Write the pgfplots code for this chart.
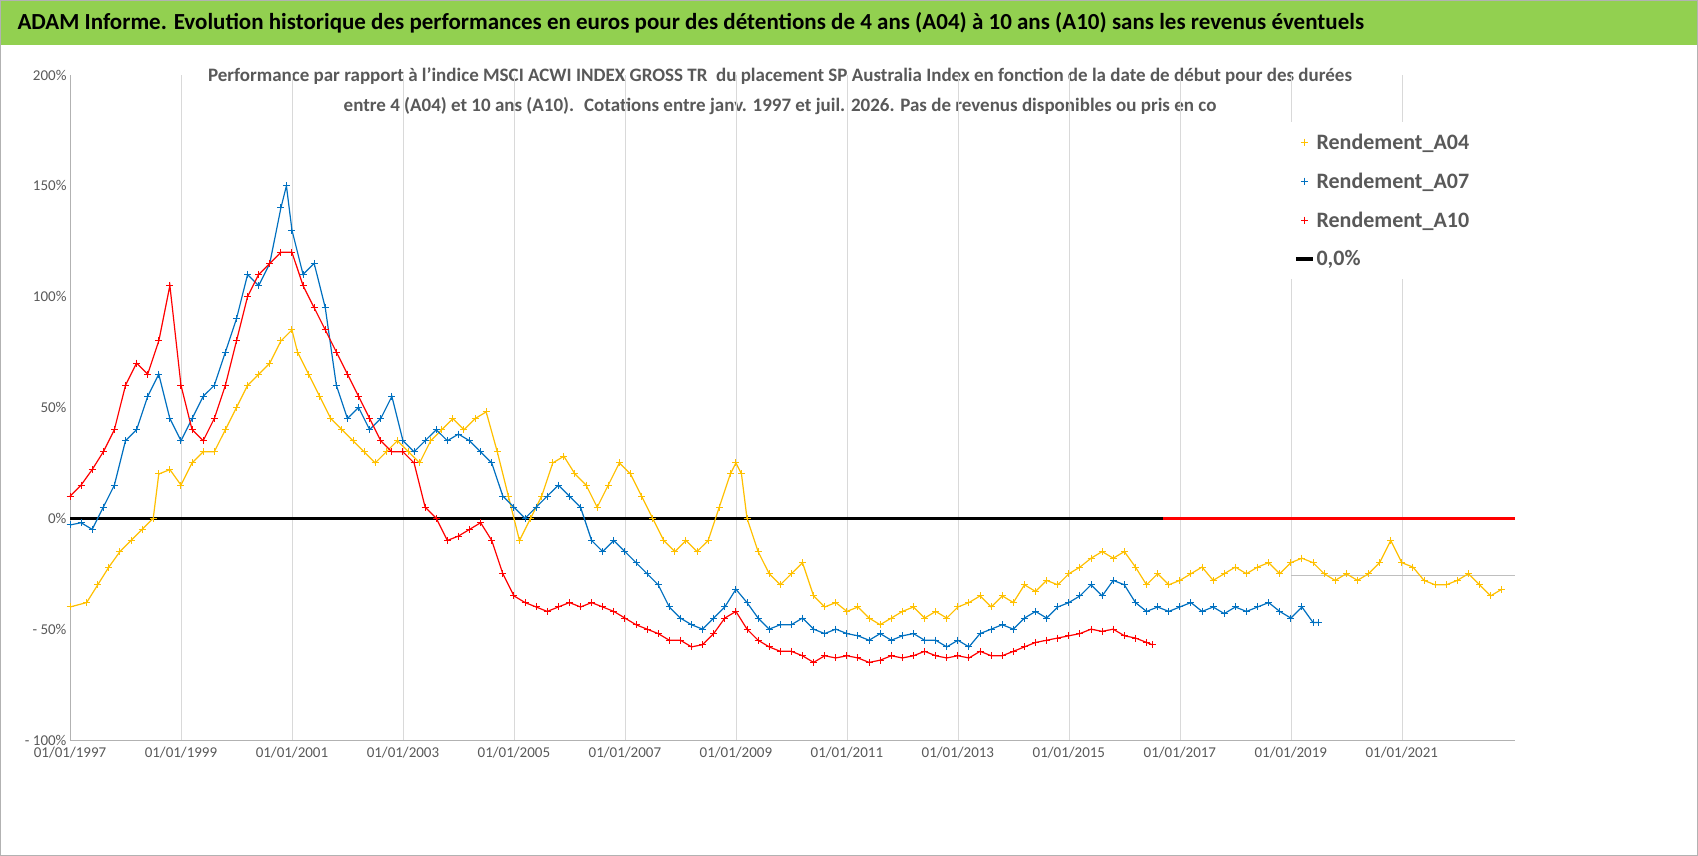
\documentclass[border=0pt]{standalone}
\usepackage{pgfplots}
\pgfplotsset{compat=1.18}
\usepackage{fontspec}
\setmainfont{Carlito}
\definecolor{cA}{HTML}{FFC000}
\definecolor{cB}{HTML}{0070C0}
\definecolor{cC}{HTML}{FF0000}
\definecolor{tg}{HTML}{595959}
\begin{document}
\begin{tikzpicture}[x=1pt,y=1pt]
\useasboundingbox (0,0) rectangle (1698,856);
\fill[white] (0,0) rectangle (1698,856);
\fill[fill={rgb,255:red,146;green,208;blue,80}] (0,811) rectangle (1698,856);
\draw[gray!60, line width=1pt] (0.5,0.5) rectangle (1697.5,855.5);
\node[anchor=west, font=\fontsize{23}{26}\selectfont\bfseries] at (14,833) {ADAM Informe. Evolution historique des performances en euros pour des détentions de 4 ans (A04) à 10 ans (A10) sans les revenus éventuels};
\node[align=center, text=tg, font=\fontsize{19}{30}\selectfont\bfseries] at (780,765) {Performance par rapport à l'indice MSCI ACWI INDEX GROSS TR \ du placement SP Australia Index en fonction de la date de début pour des durées\\entre 4 (A04) et 10 ans (A10). \ Cotations entre janv. 1997 et juil. 2026. Pas de revenus disponibles ou pris en co};
\begin{axis}[at={(70pt,116pt)}, anchor=south west, scale only axis,
 width=1445pt, height=665pt, xmin=1997, xmax=2023.04, ymin=-100, ymax=200,
 axis lines*=left, axis line style={gray!60},
 xtick={1997,1999,2001,2003,2005,2007,2009,2011,2013,2015,2017,2019,2021},
 xticklabels={01/01/1997,01/01/1999,01/01/2001,01/01/2003,01/01/2005,01/01/2007,01/01/2009,01/01/2011,01/01/2013,01/01/2015,01/01/2017,01/01/2019,01/01/2021},
 ytick={-100,-50,0,50,100,150,200},
 yticklabels={- 100\%,- 50\%,0\%,50\%,100\%,150\%,200\%},
 xmajorgrids, major grid style={gray!30},
 tick style={draw=none},
 ticklabel style={font=\fontsize{15}{17}\selectfont, text=tg},
 xticklabel style={yshift=-4pt},
 legend style={at={(0.84,0.93)}, anchor=north west, draw=none, fill=white,
   font=\fontsize{22}{26}\selectfont\bfseries, text=tg, row sep=18pt, inner sep=10pt},
 legend cell align=left, clip=false]
\addlegendimage{cA, only marks, mark=+, mark size=3.5pt, line width=1pt}
\addlegendentry{Rendement\_A04}
\addlegendimage{cB, only marks, mark=+, mark size=3.5pt, line width=1pt}
\addlegendentry{Rendement\_A07}
\addlegendimage{cC, only marks, mark=+, mark size=3.5pt, line width=1pt}
\addlegendentry{Rendement\_A10}
\addlegendimage{black, line width=3.5pt}
\addlegendentry{0,0\%}
\addplot[cC, line width=3pt, forget plot] coordinates {(2016.7,0)(2023.04,0)};
\addplot[black, line width=3pt, forget plot] coordinates {(1997,0)(2016.7,0)};
\draw[gray!50, line width=1pt] (axis cs:2019,-25.7) -- (axis cs:2023.04,-25.7);
\addplot[cA, line width=1.2pt, mark=+, mark size=3.5pt, mark options={line width=1pt}, forget plot] coordinates {
(1997.0,-40)(1997.3,-38)(1997.5,-30)(1997.7,-22)(1997.9,-15)(1998.1,-10)(1998.3,-5)(1998.5,0)(1998.6,20)(1998.8,22)(1999.0,15)(1999.2,25)(1999.4,30)(1999.6,30)(1999.8,40)(2000.0,50)(2000.2,60)(2000.4,65)(2000.6,70)(2000.8,80)(2001.0,85)(2001.1,75)(2001.3,65)(2001.5,55)(2001.7,45)(2001.9,40)(2002.1,35)(2002.3,30)(2002.5,25)(2002.7,30)(2002.9,35)(2003.1,30)(2003.3,25)(2003.5,35)(2003.7,40)(2003.9,45)(2004.1,40)(2004.3,45)(2004.5,48)(2004.7,30)(2004.9,10)(2005.1,-10)(2005.3,0)(2005.5,10)(2005.7,25)(2005.9,28)(2006.1,20)(2006.3,15)(2006.5,5)(2006.7,15)(2006.9,25)(2007.1,20)(2007.3,10)(2007.5,0)(2007.7,-10)(2007.9,-15)(2008.1,-10)(2008.3,-15)(2008.5,-10)(2008.7,5)(2008.9,20)(2009.0,25)(2009.1,20)(2009.2,0)(2009.4,-15)(2009.6,-25)(2009.8,-30)(2010.0,-25)(2010.2,-20)(2010.4,-35)(2010.6,-40)(2010.8,-38)(2011.0,-42)(2011.2,-40)(2011.4,-45)(2011.6,-48)(2011.8,-45)(2012.0,-42)(2012.2,-40)(2012.4,-45)(2012.6,-42)(2012.8,-45)(2013.0,-40)(2013.2,-38)(2013.4,-35)(2013.6,-40)(2013.8,-35)(2014.0,-38)(2014.2,-30)(2014.4,-33)(2014.6,-28)(2014.8,-30)(2015.0,-25)(2015.2,-22)(2015.4,-18)(2015.6,-15)(2015.8,-18)(2016.0,-15)(2016.2,-22)(2016.4,-30)(2016.6,-25)(2016.8,-30)(2017.0,-28)(2017.2,-25)(2017.4,-22)(2017.6,-28)(2017.8,-25)(2018.0,-22)(2018.2,-25)(2018.4,-22)(2018.6,-20)(2018.8,-25)(2019.0,-20)(2019.2,-18)(2019.4,-20)(2019.6,-25)(2019.8,-28)(2020.0,-25)(2020.2,-28)(2020.4,-25)(2020.6,-20)(2020.8,-10)(2021.0,-20)(2021.2,-22)(2021.4,-28)(2021.6,-30)(2021.8,-30)(2022.0,-28)(2022.2,-25)(2022.4,-30)(2022.6,-35)(2022.8,-32)};
\addplot[cB, line width=1.2pt, mark=+, mark size=3.5pt, mark options={line width=1pt}, forget plot] coordinates {
(1997.0,-3)(1997.2,-2)(1997.4,-5)(1997.6,5)(1997.8,15)(1998.0,35)(1998.2,40)(1998.4,55)(1998.6,65)(1998.8,45)(1999.0,35)(1999.2,45)(1999.4,55)(1999.6,60)(1999.8,75)(2000.0,90)(2000.2,110)(2000.4,105)(2000.6,115)(2000.8,140)(2000.9,150)(2001.0,130)(2001.2,110)(2001.4,115)(2001.6,95)(2001.8,60)(2002.0,45)(2002.2,50)(2002.4,40)(2002.6,45)(2002.8,55)(2003.0,35)(2003.2,30)(2003.4,35)(2003.6,40)(2003.8,35)(2004.0,38)(2004.2,35)(2004.4,30)(2004.6,25)(2004.8,10)(2005.0,5)(2005.2,0)(2005.4,5)(2005.6,10)(2005.8,15)(2006.0,10)(2006.2,5)(2006.4,-10)(2006.6,-15)(2006.8,-10)(2007.0,-15)(2007.2,-20)(2007.4,-25)(2007.6,-30)(2007.8,-40)(2008.0,-45)(2008.2,-48)(2008.4,-50)(2008.6,-45)(2008.8,-40)(2009.0,-32)(2009.2,-38)(2009.4,-45)(2009.6,-50)(2009.8,-48)(2010.0,-48)(2010.2,-45)(2010.4,-50)(2010.6,-52)(2010.8,-50)(2011.0,-52)(2011.2,-53)(2011.4,-55)(2011.6,-52)(2011.8,-55)(2012.0,-53)(2012.2,-52)(2012.4,-55)(2012.6,-55)(2012.8,-58)(2013.0,-55)(2013.2,-58)(2013.4,-52)(2013.6,-50)(2013.8,-48)(2014.0,-50)(2014.2,-45)(2014.4,-42)(2014.6,-45)(2014.8,-40)(2015.0,-38)(2015.2,-35)(2015.4,-30)(2015.6,-35)(2015.8,-28)(2016.0,-30)(2016.2,-38)(2016.4,-42)(2016.6,-40)(2016.8,-42)(2017.0,-40)(2017.2,-38)(2017.4,-42)(2017.6,-40)(2017.8,-43)(2018.0,-40)(2018.2,-42)(2018.4,-40)(2018.6,-38)(2018.8,-42)(2019.0,-45)(2019.2,-40)(2019.4,-47)(2019.5,-47)};
\addplot[cC, line width=1.2pt, mark=+, mark size=3.5pt, mark options={line width=1pt}, forget plot] coordinates {
(1997.0,10)(1997.2,15)(1997.4,22)(1997.6,30)(1997.8,40)(1998.0,60)(1998.2,70)(1998.4,65)(1998.6,80)(1998.8,105)(1999.0,60)(1999.2,40)(1999.4,35)(1999.6,45)(1999.8,60)(2000.0,80)(2000.2,100)(2000.4,110)(2000.6,115)(2000.8,120)(2001.0,120)(2001.2,105)(2001.4,95)(2001.6,85)(2001.8,75)(2002.0,65)(2002.2,55)(2002.4,45)(2002.6,35)(2002.8,30)(2003.0,30)(2003.2,25)(2003.4,5)(2003.6,0)(2003.8,-10)(2004.0,-8)(2004.2,-5)(2004.4,-2)(2004.6,-10)(2004.8,-25)(2005.0,-35)(2005.2,-38)(2005.4,-40)(2005.6,-42)(2005.8,-40)(2006.0,-38)(2006.2,-40)(2006.4,-38)(2006.6,-40)(2006.8,-42)(2007.0,-45)(2007.2,-48)(2007.4,-50)(2007.6,-52)(2007.8,-55)(2008.0,-55)(2008.2,-58)(2008.4,-57)(2008.6,-52)(2008.8,-45)(2009.0,-42)(2009.2,-50)(2009.4,-55)(2009.6,-58)(2009.8,-60)(2010.0,-60)(2010.2,-62)(2010.4,-65)(2010.6,-62)(2010.8,-63)(2011.0,-62)(2011.2,-63)(2011.4,-65)(2011.6,-64)(2011.8,-62)(2012.0,-63)(2012.2,-62)(2012.4,-60)(2012.6,-62)(2012.8,-63)(2013.0,-62)(2013.2,-63)(2013.4,-60)(2013.6,-62)(2013.8,-62)(2014.0,-60)(2014.2,-58)(2014.4,-56)(2014.6,-55)(2014.8,-54)(2015.0,-53)(2015.2,-52)(2015.4,-50)(2015.6,-51)(2015.8,-50)(2016.0,-53)(2016.2,-54)(2016.4,-56)(2016.5,-57)};
\end{axis}
\end{tikzpicture}
\end{document}
